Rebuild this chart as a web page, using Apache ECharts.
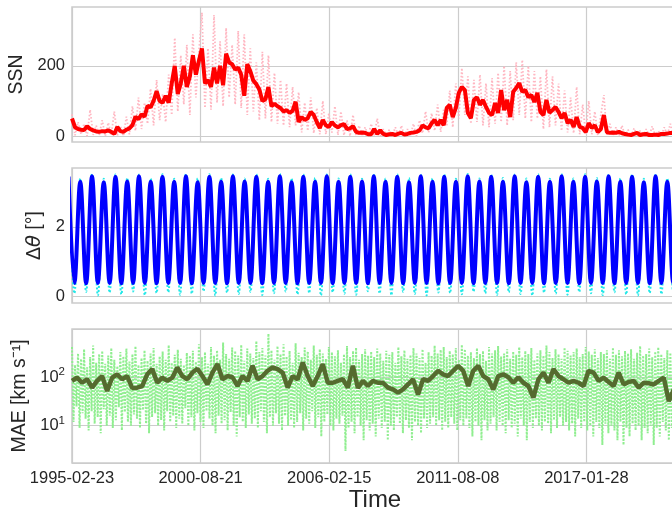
<!DOCTYPE html>
<html>
<head>
<meta charset="utf-8">
<script src="https://cdn.jsdelivr.net/npm/echarts@6/dist/echarts.min.js"></script>
<style>
  html, body { margin: 0; padding: 0; background: #fff; }
  #chart { width: 672px; height: 514px; }
</style>
</head>
<body>
<div id="chart"></div>
<script>
// x is counted in days from 1995-02-23
const tickLabels = ['1995-02-23', '2000-08-21', '2006-02-15', '2011-08-08', '2017-01-28'];
const tickStep = 2000;
const dayMax = 9425;

// sunspot number, one value every 47 days
const ssnStep = 47;
const ssnSmooth = [
  50, 25, 20, 18, 17, 28, 20, 16, 13, 12,
  14, 13, 16, 12, 6, 26, 14, 12, 18, 22,
  31, 55, 48, 62, 55, 86, 82, 100, 128, 100,
  95, 115, 95, 150, 200, 120, 150, 200, 140, 170,
  230, 175, 215, 250, 150, 160, 140, 195, 150, 200,
  145, 235, 210, 205, 190, 195, 175, 115, 205, 185,
  158, 148, 133, 100, 105, 140, 85, 92, 85, 80,
  70, 74, 66, 72, 98, 40, 54, 46, 51, 69,
  60, 40, 23, 46, 31, 26, 40, 30, 25, 31,
  34, 20, 22, 28, 12, 9, 10, 9, 5, 5,
  20, 6, 16, 6, 3, 5, 6, 3, 7, 9,
  4, 6, 9, 10, 12, 16, 30, 25, 22, 36,
  46, 31, 46, 31, 80, 89, 54, 80, 123, 140,
  131, 66, 51, 103, 111, 89, 103, 83, 66, 60,
  94, 66, 131, 74, 103, 54, 126, 137, 151, 126,
  131, 111, 117, 97, 123, 69, 60, 103, 66, 74,
  83, 69, 51, 66, 37, 46, 26, 54, 26, 23,
  11, 37, 23, 31, 11, 20, 60, 11, 9, 10,
  9, 12, 8, 6, 4, 3, 6, 9, 3, 5,
  6, 3, 3, 4, 3, 6, 6, 7, 9, 9
];
const ssnRaw = [
  62, 2, 40, 5, 35, 0, 75, 3, 30, 2, 45, 0, 38, 4, 70, 1, 28, 0, 55, 5,
  85, 15, 110, 20, 95, 35, 135, 30, 160, 45, 120, 40, 175,
  60, 280, 70, 230, 90, 260, 60, 290, 110, 240, 352, 80, 250, 75, 345, 95, 270, 85, 308, 110, 260, 90, 300, 80,
  290, 60, 250, 70, 210, 45, 240, 50, 230, 40, 180, 35, 160, 30, 150, 25, 140, 30,
  125, 10, 95, 15, 110, 8, 80, 5, 100, 5, 65, 10, 85, 3, 70,
  2, 45, 0, 60, 1, 30, 0, 25, 0, 35, 2, 50, 0, 20, 0, 18, 0, 25, 0, 30, 0, 20, 2, 35, 0, 45,
  8, 70, 10, 65, 15, 90, 12, 75, 30, 130, 25, 150,
  50, 194, 60, 170, 35, 160, 40, 175, 30, 150, 25, 165, 35, 180, 40, 200, 30, 185, 45, 210, 60, 217, 50, 200, 40, 185, 50, 170,
  20, 190, 25, 170, 30, 150, 15, 130, 10, 110, 8, 140, 5, 90, 3, 100, 5, 70, 2, 60, 117,
  2, 35, 0, 25, 1, 30, 0, 18, 0, 22, 1, 15, 0, 20, 0, 28, 1, 15, 0, 25, 2, 35, 3
];

// delta theta, peaks and troughs, one every 91.3 days starting at day -54
const dthStart = -54;
const dthStep = 91.3;
const dthModel = [
  3.45, 0.38, 3.30, 0.37, 3.46, 0.38, 3.29, 0.38, 3.45, 0.37, 3.31, 0.38, 3.46, 0.38, 3.30, 0.37, 3.45, 0.38, 3.30, 0.38,
  3.46, 0.37, 3.29, 0.38, 3.45, 0.38, 3.30, 0.37, 3.46, 0.38, 3.31, 0.38, 3.45, 0.37, 3.30, 0.38, 3.46, 0.38, 3.29, 0.37,
  3.45, 0.38, 3.30, 0.38, 3.46, 0.37, 3.30, 0.38, 3.45, 0.38, 3.31, 0.37, 3.46, 0.38, 3.30, 0.38, 3.45, 0.37, 3.29, 0.38,
  3.46, 0.38, 3.30, 0.37, 3.45, 0.38, 3.30, 0.38, 3.46, 0.37, 3.31, 0.38, 3.45, 0.38, 3.30, 0.37, 3.46, 0.38, 3.29, 0.38,
  3.45, 0.37, 3.30, 0.38, 3.46, 0.38, 3.30, 0.37, 3.45, 0.38, 3.31, 0.38, 3.46, 0.37, 3.30, 0.38, 3.45, 0.38, 3.29, 0.37,
  3.46, 0.38, 3.30, 0.38, 3.45
];
const dthObs = [
  3.52, 0.08, 3.40, 0.12, 3.53, 0.02, 3.39, 0.10, 3.52, 0.05, 3.41, 0.13, 3.51, 0.03, 3.40, 0.09, 3.52, 0.11, 3.39, 0.04,
  3.53, 0.07, 3.40, 0.14, 3.52, 0.02, 3.41, 0.10, 3.51, 0.06, 3.40, 0.12, 3.52, 0.03, 3.39, 0.08, 3.53, 0.13, 3.40, 0.05,
  3.52, 0.09, 3.41, 0.02, 3.51, 0.11, 3.40, 0.07, 3.52, 0.04, 3.39, 0.14, 3.53, 0.08, 3.40, 0.03, 3.52, 0.12, 3.41, 0.06,
  3.51, 0.02, 3.40, 0.10, 3.52, 0.09, 3.39, 0.05, 3.53, 0.13, 3.40, 0.08, 3.52, 0.03, 3.41, 0.11, 3.51, 0.06, 3.40, 0.02,
  3.52, 0.10, 3.39, 0.07, 3.53, 0.04, 3.40, 0.12, 3.52, 0.08, 3.41, 0.03, 3.51, 0.11, 3.40, 0.05, 3.52, 0.02, 3.39, 0.09,
  3.53, 0.06, 3.40, 0.13, 3.52
];

// MAE, smoothed every 78 days, raw every 23.5 days
const maeStep = 78;
const maeSmooth = [
  84, 98, 77, 91, 61, 84, 106, 52, 98, 115,
  91, 106, 60, 61, 66, 115, 147, 77, 98, 84,
  98, 159, 106, 91, 125, 150, 106, 71, 125, 187,
  91, 106, 100, 66, 106, 84, 172, 91, 106, 136,
  159, 147, 125, 61, 106, 91, 202, 106, 66, 106,
  187, 77, 77, 84, 91, 61, 172, 60, 84, 66,
  84, 77, 77, 61, 56, 48, 56, 71, 91, 44,
  91, 84, 106, 136, 115, 106, 136, 172, 136, 66,
  136, 172, 106, 91, 56, 106, 115, 100, 77, 100,
  77, 66, 38, 91, 125, 77, 147, 106, 91, 77,
  84, 77, 66, 136, 125, 84, 98, 80, 66, 125,
  71, 80, 84, 61, 77, 75, 71, 84, 98, 32,
  56, 60
];
const maeRawStep = 23.5;
const maeRaw = [
  420, 12, 180, 25, 310, 9, 240, 18, 380, 14, 160, 8, 260, 20, 450, 11, 200, 15, 300, 7,
  350, 22, 190, 10, 280, 16, 400, 9, 230, 13, 170, 24, 330, 8, 270, 19, 390, 12, 210, 10,
  300, 17, 440, 14, 180, 9, 250, 21, 360, 11, 220, 7, 310, 15, 400, 18, 190, 10, 270, 13,
  340, 8, 230, 20, 460, 12, 200, 16, 290, 9, 370, 14, 240, 11, 180, 23, 320, 10, 280, 15,
  350, 8, 210, 18, 480, 12, 260, 9, 330, 20, 190, 14, 420, 10, 280, 7, 360, 16, 230, 11,
  520, 13, 300, 8, 240, 19, 410, 10, 350, 6, 280, 15, 470, 12, 220, 9, 390, 17, 310, 11,
  250, 14, 560, 9, 330, 20, 400, 12, 280, 7, 790, 15, 360, 10, 230, 18, 440, 11, 300, 8,
  480, 16, 270, 10, 350, 13, 200, 9, 500, 12, 320, 18, 260, 8, 410, 14, 340, 11, 230, 20,
  450, 9, 290, 15, 380, 6, 310, 12, 240, 17, 420, 10, 330, 8, 270, 14, 360, 11, 200, 16,
  300, 3, 440, 9, 260, 12, 350, 7, 410, 15, 230, 10, 300, 5, 380, 13, 280, 8, 340, 11,
  260, 6, 390, 14, 310, 9, 220, 12, 350, 5, 290, 10, 330, 8, 200, 15, 420, 11, 270, 7,
  360, 13, 240, 9, 290, 5, 400, 12, 310, 10, 250, 7, 380, 14, 200, 9, 330, 11, 280, 15,
  450, 10, 310, 13, 370, 8, 420, 12, 260, 9, 350, 15, 300, 11, 400, 8, 230, 13, 470, 10,
  380, 14, 280, 9, 330, 6, 250, 12, 400, 10, 300, 5, 350, 13, 220, 8, 420, 11, 310, 15,
  360, 8, 440, 12, 270, 10, 310, 7, 380, 13, 240, 9, 340, 11, 290, 6, 420, 14, 260, 10,
  350, 5, 300, 12, 400, 9, 230, 14, 310, 10, 360, 8, 280, 12, 450, 11, 330, 7, 250, 13,
  380, 9, 300, 15, 240, 10, 410, 12, 350, 8, 280, 11, 330, 6, 390, 14, 260, 9, 300, 12,
  420, 8, 340, 10, 290, 6, 380, 12, 250, 9, 330, 4, 300, 11, 360, 7, 240, 10, 410, 8,
  290, 5, 360, 12, 270, 4, 350, 9, 310, 6, 380, 11, 240, 8, 320, 10, 440, 5, 280, 9,
  300, 7, 390, 10, 260, 4, 340, 9, 420, 6, 300, 12, 250, 8, 360, 5, 320, 9, 280, 7
];

function toPoints(values, step, start) {
  start = start || 0;
  return values.map((v, i) => [start + i * step, v]);
}

const textColor = '#262626';
const gridColor = '#cccccc';
const font = 'Liberation Sans';

function xAxisFor(i) {
  return {
    gridIndex: i,
    type: 'value',
    min: 0,
    max: dayMax,
    interval: tickStep,
    axisLine: { show: false },
    axisTick: { show: false },
    splitLine: { lineStyle: { color: gridColor, width: 1.2 } },
    axisLabel: {
      show: i === 2,
      margin: 7,
      color: textColor,
      fontFamily: font,
      fontSize: 16.5,
      formatter: (v) => (v % tickStep === 0 ? tickLabels[v / tickStep] || '' : '')
    },
    name: i === 2 ? 'Time' : '',
    nameLocation: 'middle',
    nameGap: 25,
    nameTextStyle: { color: textColor, fontFamily: font, fontSize: 24 }
  };
}

function yBase(i) {
  return {
    gridIndex: i,
    nameLocation: 'middle',
    nameRotate: 90,
    axisLine: { show: false },
    splitLine: { lineStyle: { color: gridColor, width: 1.2 } },
    nameTextStyle: { color: textColor, fontFamily: font, fontSize: 19.5 }
  };
}

const chart = echarts.init(document.getElementById('chart'));
const gridBox = {
  left: 72, right: -6, show: true, borderColor: gridColor, borderWidth: 1.5,
  containLabel: false, outerBoundsMode: 'none'
};

chart.setOption({
  animation: false,
  backgroundColor: '#ffffff',
  grid: [
    Object.assign({ top: 7, height: 135 }, gridBox),
    Object.assign({ top: 168, height: 135 }, gridBox),
    Object.assign({ top: 329, height: 134 }, gridBox)
  ],
  xAxis: [xAxisFor(0), xAxisFor(1), xAxisFor(2)],
  yAxis: [
    Object.assign(yBase(0), {
      type: 'value', min: -17, max: 368,
      name: 'SSN', nameGap: 39,
      axisTick: { show: false, customValues: [0, 200] },
      axisLabel: { customValues: [0, 200], margin: 7, color: textColor, fontFamily: font, fontSize: 16.5 }
    }),
    Object.assign(yBase(1), {
      type: 'value', min: -0.2, max: 3.7,
      name: '{a|Δ}{b|θ}{a| [°]}', nameGap: 22,
      nameTextStyle: {
        color: textColor,
        rich: {
          a: { fontFamily: font, fontSize: 19.5, color: textColor },
          b: { fontFamily: 'DejaVu Sans', fontStyle: 'italic', fontSize: 19.5, color: textColor }
        }
      },
      axisTick: { show: false, customValues: [0, 2] },
      axisLabel: { customValues: [0, 2], margin: 7, color: textColor, fontFamily: font, fontSize: 16.5 }
    }),
    Object.assign(yBase(2), {
      type: 'log', logBase: 10, min: 1.7, max: 990,
      name: 'MAE [km s⁻¹]', nameGap: 37,
      axisTick: { show: false },
      axisLabel: {
        margin: 7, color: textColor,
        formatter: (v) => (Math.abs(v - 10) < 1e-6 ? '{b|10}{s|1}' : Math.abs(v - 100) < 1e-6 ? '{b|10}{s|2}' : ''),
        rich: {
          b: { fontFamily: font, fontSize: 16.5, color: textColor, lineHeight: 22 },
          s: { fontFamily: font, fontSize: 11.5, color: textColor, verticalAlign: 'top', lineHeight: 22 }
        }
      }
    })
  ],
  series: [
    {
      type: 'line', xAxisIndex: 0, yAxisIndex: 0, z: 2,
      data: toPoints(ssnRaw, ssnStep), showSymbol: false, symbol: 'none',
      lineStyle: { color: '#ffb6c1', width: 1.8, type: [1.5, 2] }
    },
    {
      type: 'line', xAxisIndex: 0, yAxisIndex: 0, z: 3,
      data: toPoints(ssnSmooth, ssnStep), showSymbol: false, symbol: 'none',
      lineStyle: { color: '#ff0000', width: 4 }
    },
    {
      type: 'line', xAxisIndex: 1, yAxisIndex: 1, z: 2, smooth: 0.36,
      data: toPoints(dthObs, dthStep, dthStart), showSymbol: false, symbol: 'none',
      lineStyle: { color: '#22e8e8', width: 2, type: [2, 2] }
    },
    {
      type: 'line', xAxisIndex: 1, yAxisIndex: 1, z: 3, smooth: 0.36,
      data: toPoints(dthModel, dthStep, dthStart), showSymbol: false, symbol: 'none',
      lineStyle: { color: '#0000ff', width: 4 }
    },
    {
      type: 'line', xAxisIndex: 2, yAxisIndex: 2, z: 2,
      data: toPoints(maeRaw, maeRawStep), showSymbol: false, symbol: 'none',
      lineStyle: { color: '#90ee90', width: 2, type: [2, 1.5] }
    },
    {
      type: 'line', xAxisIndex: 2, yAxisIndex: 2, z: 3,
      data: toPoints(maeSmooth, maeStep), showSymbol: false, symbol: 'none',
      lineStyle: { color: '#556b2f', width: 4.5 }
    }
  ]
});
</script>
</body>
</html>
